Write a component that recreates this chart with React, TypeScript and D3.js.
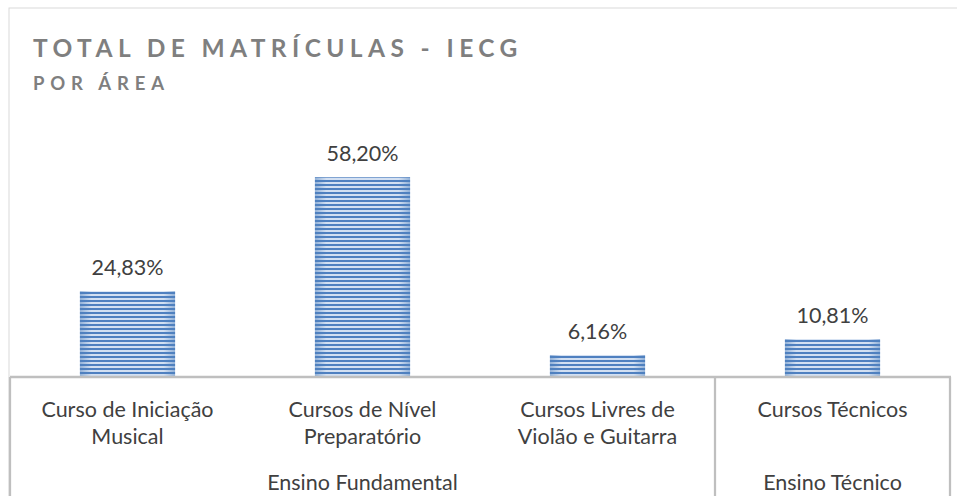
import * as d3 from "d3";

const categoryLines = [
  ["Curso de Iniciação", "Musical"],
  ["Cursos de Nível", "Preparatório"],
  ["Cursos Livres de", "Violão e Guitarra"],
  ["Cursos Técnicos"],
];
const shares = [24.83, 58.2, 6.16, 10.81];
const groupNames = ["Ensino Fundamental", "Ensino Técnico"];
const groupSizes = [3, 1];

const W = 957;
const H = 496;
const FONT = "Lato, 'Open Sans', sans-serif";

export default function App() {
  const ids = categoryLines.map((_, i) => String(i));
  const x = d3.scaleBand().domain(ids).range([10, 950]).paddingInner(0.595).paddingOuter(0.2975);
  const y = d3.scaleLinear().domain([0, 70]).range([376, 137]);
  const fmt = (v: number) => d3.format(".2f")(v).replace(".", ",") + "%";

  // group boundaries on the category axis
  let acc = 0;
  const groups = groupNames.map((name, gi) => {
    const start = acc;
    acc += groupSizes[gi];
    const x0 = x(ids[start])! - (x.step() - x.bandwidth()) / 2;
    const x1 = x(ids[acc - 1])! + x.bandwidth() + (x.step() - x.bandwidth()) / 2;
    return { name, x0, x1 };
  });
  const lineColor = "#bfbfbf";
  const labelSize = 21.5;

  return (
    <>
      <style>{"body{margin:0}"}</style>
      <svg width={W} height={H} style={{ display: "block", background: "#fff" }}>
        <defs>
          <pattern id="stripes" width="6" height="4" patternUnits="userSpaceOnUse">
            <rect width="6" height="4" fill="#d3e0f2" />
            <rect y="0" width="6" height="2" fill="#4f80c0" />
          </pattern>
          <linearGradient id="edge" x1="0" x2="1" y1="0" y2="0">
            <stop offset="0" stopColor="#4f81bd" stopOpacity="0.5" />
            <stop offset="0.12" stopColor="#4f81bd" stopOpacity="0" />
            <stop offset="0.88" stopColor="#4f81bd" stopOpacity="0" />
            <stop offset="1" stopColor="#4f81bd" stopOpacity="0.5" />
          </linearGradient>
        </defs>

        {/* chart border */}
        <rect x={9} y={8} width={W + 10} height={H + 10} fill="none" stroke="#d9d9d9" strokeWidth={1} />

        <text x={33} y={57} fill="#7f7f7f" fontFamily={FONT} fontWeight={700} fontSize={24.5} letterSpacing={5.4}>
          TOTAL DE MATRÍCULAS - IECG
        </text>
        <text x={33} y={90} fill="#7f7f7f" fontFamily={FONT} fontWeight={700} fontSize={18.5} letterSpacing={5.8}>
          POR ÁREA
        </text>

        {shares.map((v, i) => (
          <g key={i}>
            <rect x={x(ids[i])} y={y(v)} width={x.bandwidth()} height={y(0) - y(v)} fill="url(#stripes)" />
            <rect x={x(ids[i])} y={y(v)} width={x.bandwidth()} height={y(0) - y(v)} fill="url(#edge)" />
            <text
              x={x(ids[i])! + x.bandwidth() / 2}
              y={y(v) - 16}
              textAnchor="middle"
              fill="#404040"
              fontFamily={FONT}
              fontSize={labelSize}
            >
              {fmt(v)}
            </text>
          </g>
        ))}

        {/* multi-level category axis */}
        <line x1={10} x2={951} y1={377} y2={377} stroke={lineColor} strokeWidth={2.5} />
        {groups.map((g, gi) => (
          <line key={"s" + gi} x1={g.x0} x2={g.x0} y1={377} y2={H} stroke={lineColor} strokeWidth={2.25} />
        ))}
        <line x1={groups[groups.length - 1].x1} x2={groups[groups.length - 1].x1} y1={377} y2={H} stroke={lineColor} strokeWidth={2.25} />

        {categoryLines.map((lines, i) => (
          <text
            key={"c" + i}
            x={x(ids[i])! + x.bandwidth() / 2}
            y={417}
            textAnchor="middle"
            fill="#404040"
            fontFamily={FONT}
            fontSize={labelSize}
          >
            {lines.map((l, li) => (
              <tspan key={li} x={x(ids[i])! + x.bandwidth() / 2} dy={li === 0 ? 0 : 27}>
                {l}
              </tspan>
            ))}
          </text>
        ))}
        {groups.map((g, gi) => (
          <text
            key={"g" + gi}
            x={(g.x0 + g.x1) / 2}
            y={490}
            textAnchor="middle"
            fill="#404040"
            fontFamily={FONT}
            fontSize={labelSize}
          >
            {g.name}
          </text>
        ))}
      </svg>
    </>
  );
}
